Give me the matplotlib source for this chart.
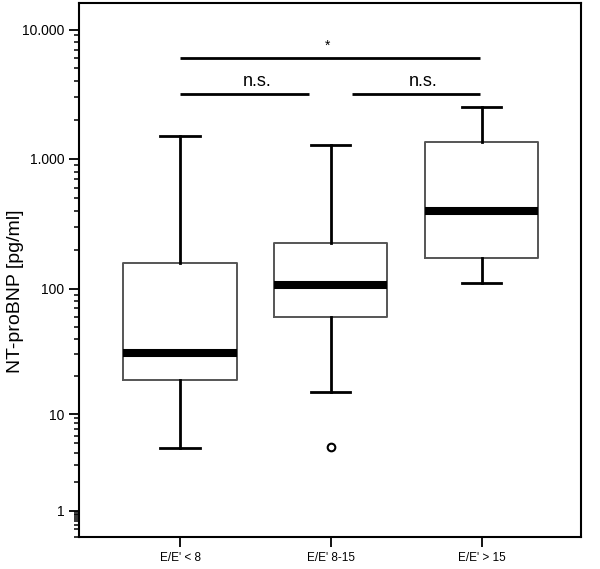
import numpy as np
import matplotlib
matplotlib.use("Agg")
import matplotlib.pyplot as plt
from matplotlib.ticker import FixedLocator, FuncFormatter

plt.rcParams['font.family'] = ['Liberation Sans', 'DejaVu Sans']

# groups and box summaries (NT-proBNP, pg/ml)
groups = ["E/E' < 8", "E/E' 8-15", "E/E' > 15"]
whisker_low = [4.5, 15, 111]
q1 = [18.7, 60, 173]
median = [31, 107, 400]
q3 = [158, 226, 1350]
whisker_high = [1500, 1280, 2520]
outliers = [[], [4.6], []]

y_major = [1, 10, 100, 1000, 10000]

# the original axis is not evenly spaced per decade, so map log10 -> position piecewise
log_knots = [-1, 0, 1, 2, 3, 4, 5]
pos_knots = [0, 26, 123, 248, 378, 507.5, 637]


def fwd(y):
    y = np.asarray(y, dtype=float)
    ly = np.log10(np.clip(y, 1e-3, None))
    return np.interp(ly, log_knots, pos_knots)


def inv(p):
    return 10 ** np.interp(np.asarray(p, dtype=float), pos_knots, log_knots)


stats = []
for i, g in enumerate(groups):
    stats.append(dict(label=g, whislo=whisker_low[i], q1=q1[i], med=median[i],
                      q3=q3[i], whishi=whisker_high[i], fliers=outliers[i]))

fig = plt.figure(figsize=(6.0, 5.69), dpi=100)
ax = fig.add_axes([79 / 600, 1 - 537 / 569, 502 / 600, 534 / 569])

ax.set_yscale('function', functions=(fwd, inv))

ax.bxp(stats, positions=[1, 2, 3], widths=0.75, capwidths=0.26, showfliers=True,
       boxprops=dict(color='#555555', linewidth=1.4),
       whiskerprops=dict(color='black', linewidth=2),
       capprops=dict(color='black', linewidth=2),
       medianprops=dict(color='black', linewidth=5.8, solid_capstyle='butt'),
       flierprops=dict(marker='o', markerfacecolor='white', markeredgecolor='black',
                       markersize=5.5, markeredgewidth=1.5))

ax.set_xlim(0.33, 3.66)
ax.set_ylim(0.1, float(inv(534)))

ax.yaxis.set_major_locator(FixedLocator(y_major))
minor = [m * 10.0 ** k for k in range(-1, 5) for m in range(1, 10)]
ax.yaxis.set_minor_locator(FixedLocator([v for v in minor if v not in y_major]))
ax.yaxis.set_major_formatter(FuncFormatter(lambda v, p: f"{int(round(v)):,}".replace(',', '.')))

ax.tick_params(axis='y', which='major', length=7, width=1.3, labelsize=10, direction='out')
ax.tick_params(axis='y', which='minor', length=3.5, width=1.1, direction='out')
ax.tick_params(axis='x', which='major', length=7, width=1.3, labelsize=8.5, direction='out', pad=4)
for s in ax.spines.values():
    s.set_linewidth(1.5)
    s.set_color('black')

ax.set_ylabel('NT-proBNP [pg/ml]', fontsize=14)
ax.yaxis.set_label_coords(-0.11, 0.46)

# significance brackets
ax.plot([1.0, 2.99], [6050, 6050], color='black', lw=2, solid_capstyle='butt')
ax.text(1.98, 6600, '*', ha='center', va='bottom', fontsize=10)
ax.plot([1.0, 1.854], [3180, 3180], color='black', lw=2, solid_capstyle='butt')
ax.plot([2.14, 2.99], [3180, 3180], color='black', lw=2, solid_capstyle='butt')
ax.text(1.51, 3400, 'n.s.', ha='center', va='bottom', fontsize=13)
ax.text(2.61, 3400, 'n.s.', ha='center', va='bottom', fontsize=13)

fig.savefig('out.png', dpi=100)
